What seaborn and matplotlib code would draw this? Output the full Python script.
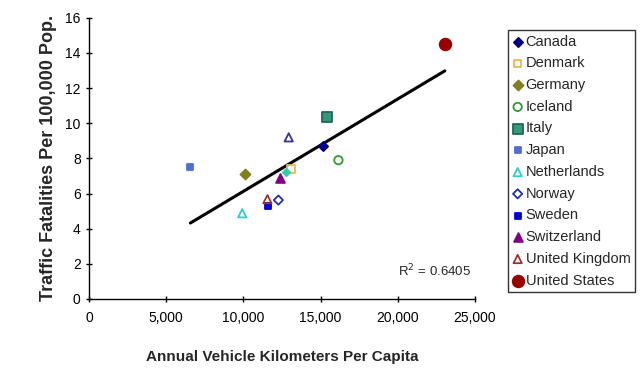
import numpy as np
import pandas as pd
import matplotlib
matplotlib.use("Agg")
import matplotlib.pyplot as plt
import matplotlib.ticker as mticker
import seaborn as sns

# Data (vehicle km per capita, fatalities per 100k)
countries = ["Canada", "Denmark", "Germany", "Iceland", "Italy", "Japan",
             "Netherlands", "Norway", "Sweden", "Switzerland",
             "United Kingdom", "United States", "_extra1", "_extra2"]
km_per_capita = [15190, 13070, 10140, 16160, 15410, 6570,
                 9930, 12270, 11580, 12360,
                 11560, 23050, 12940, 12790]
fatalities = [8.69, 7.39, 7.13, 7.90, 10.34, 7.54,
              4.88, 5.63, 5.32, 6.88,
              5.68, 14.54, 9.20, 7.24]
r_squared_label = "R$^2$ = 0.6405"

df = pd.DataFrame({"country": countries, "km": km_per_capita, "fat": fatalities})

# marker, face, edge, size
styles = {
    "Canada": ("D", "#000080", "#000080", 22),
    "Denmark": ("s", "none", "#E8B850", 30),
    "Germany": ("D", "#808020", "#808020", 26),
    "Iceland": ("o", "none", "#339933", 36),
    "Italy": ("s", "#339977", "#226655", 48),
    "Japan": ("s", "#4F6FCF", "#4F6FCF", 14),
    "Netherlands": ("^", "none", "#33CCCC", 36),
    "Norway": ("D", "none", "#1F2FB0", 22),
    "Sweden": ("s", "#0000CC", "#0000CC", 14),
    "Switzerland": ("^", "#800080", "#800080", 40),
    "United Kingdom": ("^", "none", "#993333", 36),
    "United States": ("o", "#990000", "#990000", 70),
    "_extra1": ("^", "none", "#333399", 36),
    "_extra2": ("D", "#33CCAA", "#33CCAA", 14),
}

sns.set_style("white")
plt.rcParams["font.family"] = ["Liberation Sans", "DejaVu Sans"]

fig = plt.figure(figsize=(6.4, 3.68), dpi=100)
ax = fig.add_axes([0.139, 0.1875, 0.603, 0.764])

# trendline over all points
sns.regplot(data=df, x="km", y="fat", ci=None, scatter=False, truncate=True,
            color="black", line_kws={"linewidth": 2.2}, ax=ax)

for _, row in df.iterrows():
    m, fc, ec, s = styles[row["country"]]
    ax.scatter(row["km"], row["fat"], marker=m, s=s, facecolors=fc,
               edgecolors=ec, linewidths=1.3, label=row["country"], zorder=3)

ax.set_xlim(0, 25000)
ax.set_ylim(0, 16)
ax.set_xticks(np.arange(0, 25001, 5000))
ax.set_yticks(np.arange(0, 17, 2))
ax.xaxis.set_major_formatter(mticker.FuncFormatter(lambda v, p: f"{int(v):,}"))
ax.tick_params(axis="both", direction="inout", length=5, width=1, labelsize=10,
               bottom=True, left=True, colors="black")
ax.tick_params(axis="x", pad=6)
for side in ["top", "right"]:
    ax.spines[side].set_visible(False)
for side in ["left", "bottom"]:
    ax.spines[side].set_color("black")
    ax.spines[side].set_linewidth(1)

ax.set_xlabel("Annual Vehicle Kilometers Per Capita", fontsize=11,
              fontweight="bold", labelpad=18)
ax.set_ylabel("Traffic Fatalities Per 100,000 Pop.", fontsize=13,
              fontweight="bold", labelpad=6)

ax.text(20000, 1.3, r_squared_label, fontsize=9.5)

leg = ax.legend(loc="upper left", bbox_to_anchor=(0.794, 0.918),
                bbox_transform=fig.transFigure, frameon=True, fancybox=False,
                edgecolor="black", fontsize=10.5, handletextpad=0.2,
                handlelength=0.7, borderpad=0.3, labelspacing=0.53,
                borderaxespad=0)
leg.get_frame().set_linewidth(1)

fig.savefig("out.png", dpi=100)
